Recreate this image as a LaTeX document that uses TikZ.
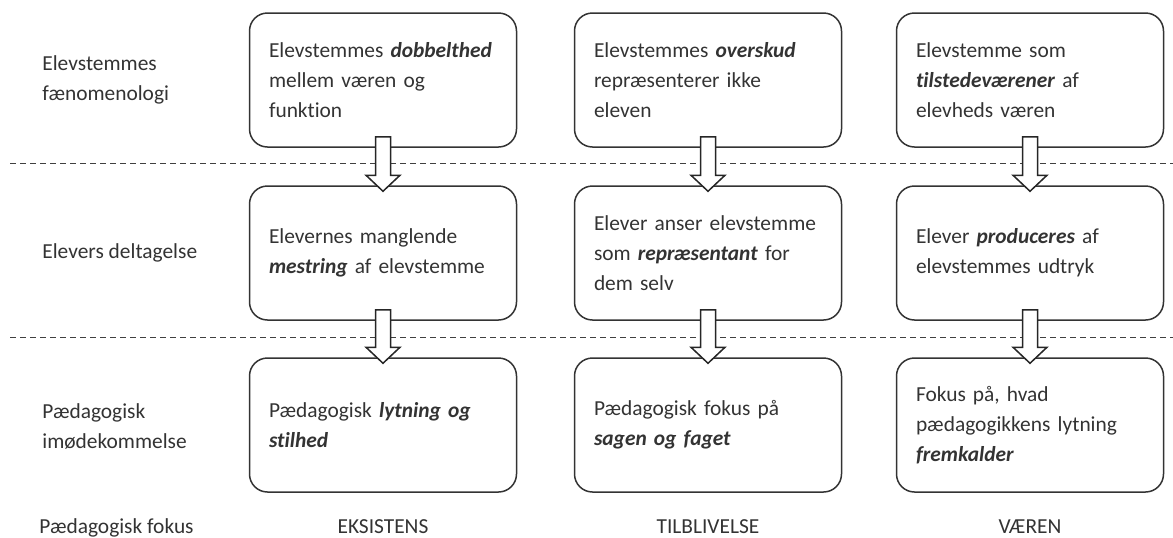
\documentclass[tikz,border=0pt]{standalone}
\usepackage{fontspec}
\setmainfont[Ligatures=NoCommon]{Carlito}
\usetikzlibrary{calc}

\newcommand{\kw}[1]{\textbf{\textit{#1}}}
\newcommand{\fatarrow}[2]{%
  \path (#1.south) ++(0,-11) coordinate (#1-t) (#2.north) ++(0,6) coordinate (#2-p);
  \draw[fat] ($(#1-t)+(-7.5,0)$) -- ($(#1-t)+(7.5,0)$) -- ($(#2-p)+(7.5,-16)$)
    -- ($(#2-p)+(17,-16)$) -- (#2-p) -- ($(#2-p)+(-17,-16)$)
    -- ($(#2-p)+(-7.5,-16)$) -- cycle;}

\begin{document}
\begin{tikzpicture}[x=0.5pt,y=-0.5pt]
\tikzset{box/.style = {draw=black!80, line width=0.75pt, rounded corners=9pt,
    minimum width=133.5pt, minimum height=67pt, text width=114pt,
    inner sep=0pt, align=left, text=black!80, font=\fontsize{10.7}{15}\selectfont},
  rowlabel/.style = {anchor=west, align=left, inner sep=0pt, text=black!80,
    font=\fontsize{10.7}{15}\selectfont},
  collabel/.style = {anchor=base, inner sep=0pt, text=black!80, font=\fontsize{10.7}{15}\selectfont},
  sep/.style = {draw=black!75, line width=0.5pt, dash pattern=on 3pt off 2pt},
  fat/.style = {draw=black!85, line width=0.75pt, fill=white}}

\useasboundingbox (0,0) rectangle (1173,537);

% row labels
\node[rowlabel] (rf) at (42,80) {Elevstemmes\\fænomenologi};
\node[rowlabel] (rd) at (42,253) {Elevers deltagelse};
\node[rowlabel] (rp) at (42,426) {Pædagogisk\\imødekommelse};
\node[rowlabel, anchor=base west] (rk) at (39,533) {Pædagogisk fokus};

% separators
\coordinate (s1l) at (10,163);
\coordinate (s1r) at (1173,163);
\coordinate (s2l) at (10,337);
\coordinate (s2r) at (1173,337);
\draw[sep] (s1l) -- (s1r);
\draw[sep] (s2l) -- (s2r);

% boxes
\node[box] (F1) at (383,80) {Elevstemmes \kw{dobbelthed}\\mellem væren og\\funktion};
\node[box] (F2) at (708,80) {Elevstemmes \kw{overskud}\\repræsenterer ikke\\eleven};
\node[box] (F3) at (1030,80) {Elevstemme som\\\kw{tilstedeværener} af\\elevheds væren};
\node[box] (D1) at (383,253) {Elevernes manglende\\\kw{mestring} af elevstemme};
\node[box] (D2) at (708,253) {Elever anser elevstemme\\som \kw{repræsentant} for\\dem selv};
\node[box] (D3) at (1030,253) {Elever \kw{produceres} af\\elevstemmes udtryk};
\node[box] (P1) at (383,425) {Pædagogisk \kw{lytning og}\\\kw{stilhed}};
\node[box] (P2) at (708,425) {Pædagogisk fokus på\\\kw{sagen og faget}};
\node[box] (P3) at (1030,425) {Fokus på, hvad\\pædagogikkens lytning\\\kw{fremkalder}};

% focus
\node[collabel] (K1) at (383,533) {EKSISTENS};
\node[collabel] (K2) at (708,533) {TILBLIVELSE};
\node[collabel] (K3) at (1030,533) {VÆREN};

\fatarrow{F1}{D1}
\fatarrow{F2}{D2}
\fatarrow{F3}{D3}
\fatarrow{D1}{P1}
\fatarrow{D2}{P2}
\fatarrow{D3}{P3}
\end{tikzpicture}
\end{document}
